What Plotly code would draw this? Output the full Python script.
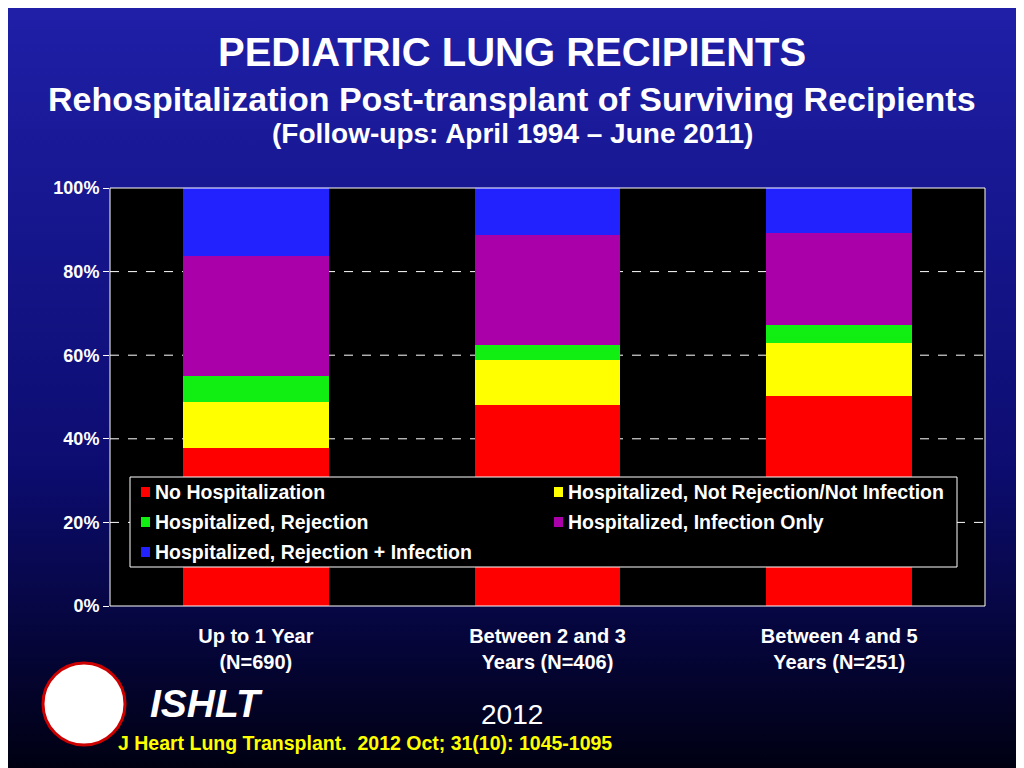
import plotly.graph_objects as go
import urllib.parse

categories = ["<b>Up to 1 Year<br>(N=690)</b>", "<b>Between 2 and 3<br>Years (N=406)</b>", "<b>Between 4 and 5<br>Years (N=251)</b>"]
series_names = ["No Hospitalization", "Hospitalized, Not Rejection/Not Infection",
                "Hospitalized, Rejection", "Hospitalized, Infection Only",
                "Hospitalized, Rejection + Infection"]
no_hosp = [37.7, 48.0, 50.2]
not_rej_inf = [11.0, 10.8, 12.8]
rejection = [6.3, 3.7, 4.3]
infection = [28.8, 26.3, 21.9]
rej_inf = [16.2, 11.2, 10.8]
colors = ["#ff0000", "#ffff00", "#11ee11", "#aa00aa", "#2222ff"]
yticks = [0, 20, 40, 60, 80, 100]

W, H = 1024, 768
L, R, T, B = 102, 47, 180, 170
pw, ph = W - L - R, H - T - B

def px(x): return (x - 8 - L) / pw
def py(y): return (H - B - (y - 8)) / ph

fig = go.Figure()
for name, vals, c in zip(series_names, [no_hosp, not_rej_inf, rejection, infection, rej_inf], colors):
    fig.add_bar(x=categories, y=vals, name=name, marker=dict(color=c, line=dict(width=0)),
                width=0.5, showlegend=False)

svg = ('<svg xmlns="http://www.w3.org/2000/svg" width="1024" height="768">'
       '<defs><linearGradient id="g" x1="0" y1="0" x2="0" y2="1">'
       '<stop offset="0" stop-color="#1f1fa8"/><stop offset="0.6" stop-color="#0c0c70"/>'
       '<stop offset="1" stop-color="#000010"/></linearGradient></defs>'
       '<rect width="1024" height="768" fill="url(#g)"/></svg>')
src = "data:image/svg+xml;charset=utf-8," + urllib.parse.quote(svg)

font = "Arial, Liberation Sans, sans-serif"
fig.update_layout(
    barmode="stack", width=W, height=H,
    margin=dict(l=L, r=R, t=T, b=B),
    paper_bgcolor="#0c0c70", plot_bgcolor="black",
    font=dict(family=font, color="white", size=17),
    images=[dict(source=src, xref="paper", yref="paper", x=-L/pw, y=1+T/ph,
                 sizex=W/pw, sizey=H/ph, sizing="stretch", layer="below",
                 xanchor="left", yanchor="top")],
    xaxis=dict(showgrid=False, tickfont=dict(size=20, color="white"), ticks="", showline=False,
               ticklabelstandoff=16),
    yaxis=dict(range=[0, 100], tickvals=yticks, ticktext=[f"<b>{v}%</b>" for v in yticks],
               showgrid=False, ticks="outside", tickcolor="white", ticklen=6, tickfont=dict(size=18),
               zeroline=False, showline=False),
    showlegend=False,
)
fig.add_shape(type="rect", xref="paper", yref="paper", x0=0, x1=1, y0=0, y1=1,
              fillcolor="black", line=dict(width=0), layer="below")
for v in yticks[1:-1]:
    fig.add_shape(type="line", xref="paper", yref="y", x0=0, x1=1, y0=v, y1=v,
                  line=dict(color="white", width=1, dash="dash"), layer="below")
fig.add_shape(type="rect", xref="paper", yref="paper", x0=0, x1=1, y0=0, y1=1,
              line=dict(color="white", width=1))

# legend box
fig.add_shape(type="rect", xref="paper", yref="paper", x0=px(130), x1=px(957), y0=py(567), y1=py(477),
              fillcolor="black", line=dict(color="white", width=1))
pos = [(141, 492), (554, 492), (141, 522), (554, 522), (141, 552)]
for (lx, ly), name, c in zip(pos, series_names, colors):
    fig.add_shape(type="rect", xref="paper", yref="paper", x0=px(lx), x1=px(lx + 9),
                  y0=py(ly + 5), y1=py(ly - 5), fillcolor=c, line=dict(width=0))
    fig.add_annotation(x=px(lx + 12), y=py(ly), xref="paper", yref="paper", text=f"<b>{name}</b>",
                       showarrow=False, xanchor="left", yanchor="middle",
                       font=dict(size=19.5, color="white"))

anns = [
    (512, 52, "<b>PEDIATRIC LUNG RECIPIENTS</b>", 40, "white"),
    (512, 99, "<b>Rehospitalization Post-transplant of Surviving Recipients</b>", 34, "white"),
    (512, 133, "<b>(Follow-ups: April 1994 – June 2011)</b>", 28, "white"),
    (206, 703, "<b><i>ISHLT</i></b>", 39, "white"),
    (512, 714, "2012", 28, "white"),
    (365, 743, "<b>J Heart Lung Transplant.  2012 Oct; 31(10): 1045-1095</b>", 19.5, "#ffff00"),
]
for x, y, t, s, c in anns:
    fig.add_annotation(x=px(x), y=py(y), xref="paper", yref="paper", text=t, showarrow=False,
                       font=dict(size=s, color=c, family=font), xanchor="center", yanchor="middle")
fig.add_shape(type="circle", xref="paper", yref="paper",
              x0=px(43), x1=px(125), y0=py(745), y1=py(663),
              fillcolor="white", line=dict(color="#cc0000", width=3))
fig.write_html("out.html")
